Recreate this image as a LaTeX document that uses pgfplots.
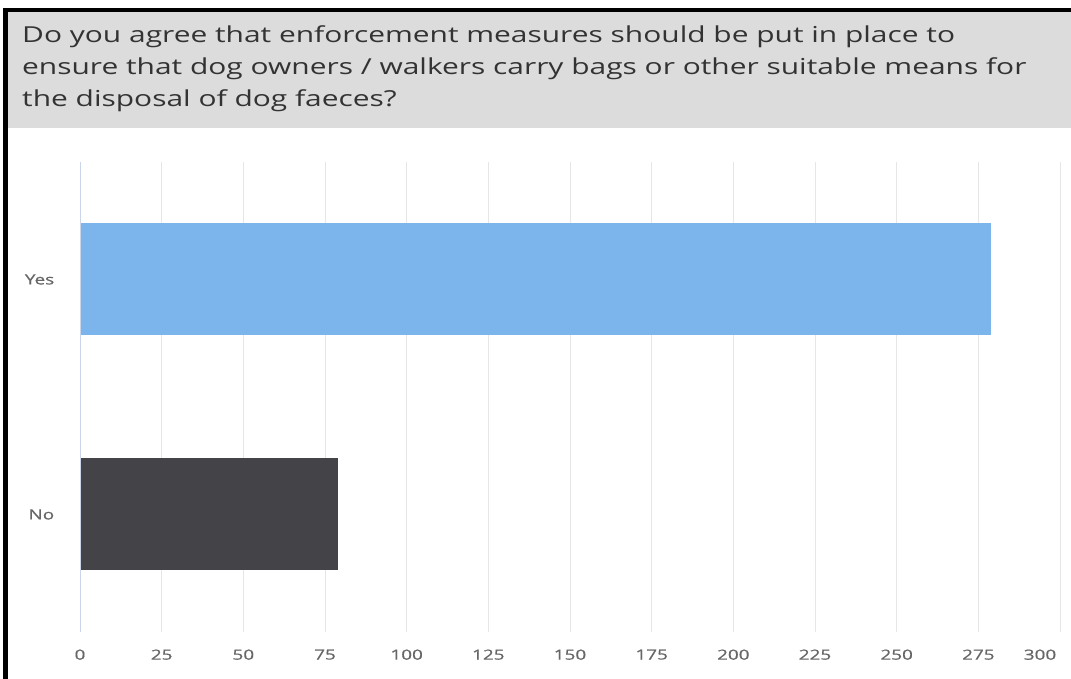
\documentclass[border=0pt]{standalone}
\usepackage{pgfplots}
\pgfplotsset{compat=1.18}
\usepackage{fontspec}
\setmainfont{Open Sans}
\newfontfamily\titlefont[FakeStretch=1.36]{Open Sans}
\newfontfamily\tickfont[FakeStretch=1.35,FakeBold=0.6]{Open Sans}
\definecolor{yescol}{HTML}{7CB5EC}
\definecolor{nocol}{HTML}{434348}
\definecolor{gridc}{HTML}{E6E6E6}
\definecolor{axisc}{HTML}{CCD6EB}
\definecolor{titlebg}{HTML}{DCDCDC}
\definecolor{titlefg}{HTML}{333333}
\definecolor{labfg}{HTML}{666666}
\begin{document}
\begin{tikzpicture}[x=1pt,y=1pt]
\useasboundingbox (0,0) rectangle (1071,679);
\fill[white] (0,0) rectangle (1071,679);
\fill[titlebg] (8,551) rectangle (1071,667);
\fill[black] (3,667) rectangle (1071,671);
\fill[black] (3,0) rectangle (8,671);
\node[anchor=base west, inner sep=0pt, text=titlefg, font=\titlefont\fontsize{22}{32}\selectfont] at (22,636) {Do you agree that enforcement measures should be put in place to};
\node[anchor=base west, inner sep=0pt, text=titlefg, font=\titlefont\fontsize{22}{32}\selectfont] at (22,604) {ensure that dog owners / walkers carry bags or other suitable means for};
\node[anchor=base west, inner sep=0pt, text=titlefg, font=\titlefont\fontsize{22}{32}\selectfont] at (22,572) {the disposal of dog faeces?};
\begin{axis}[
  at={(80pt,47pt)}, anchor=south west,
  scale only axis, width=980pt, height=470pt,
  xbar, bar width=112pt, bar shift=0pt,
  xmin=0, xmax=300, ymin=-0.5, ymax=1.5,
  ytick={0,1}, yticklabels={No,Yes},
  xtick={0,25,...,275},
  extra x ticks={300},
  extra x tick style={grid=major, xticklabel style={xshift=-20pt}},
  xmajorgrids, major grid style={color=gridc, line width=1pt},
  axis line style={draw=none}, tick style={draw=none},
  /pgf/number format/assume math mode=true,
  ticklabel style={font=\tickfont\fontsize{14}{16}\selectfont, text=labfg},
  xticklabel style={yshift=-14pt},
  yticklabel style={xshift=-18pt},
  clip=false,
]
\addplot[fill=yescol, draw=none] coordinates {(279,1)};
\addplot[fill=nocol, draw=none] coordinates {(79,0)};
\draw[axisc, line width=1pt] (axis cs:0,-0.5) -- (axis cs:0,1.5);
\end{axis}
\end{tikzpicture}
\end{document}
